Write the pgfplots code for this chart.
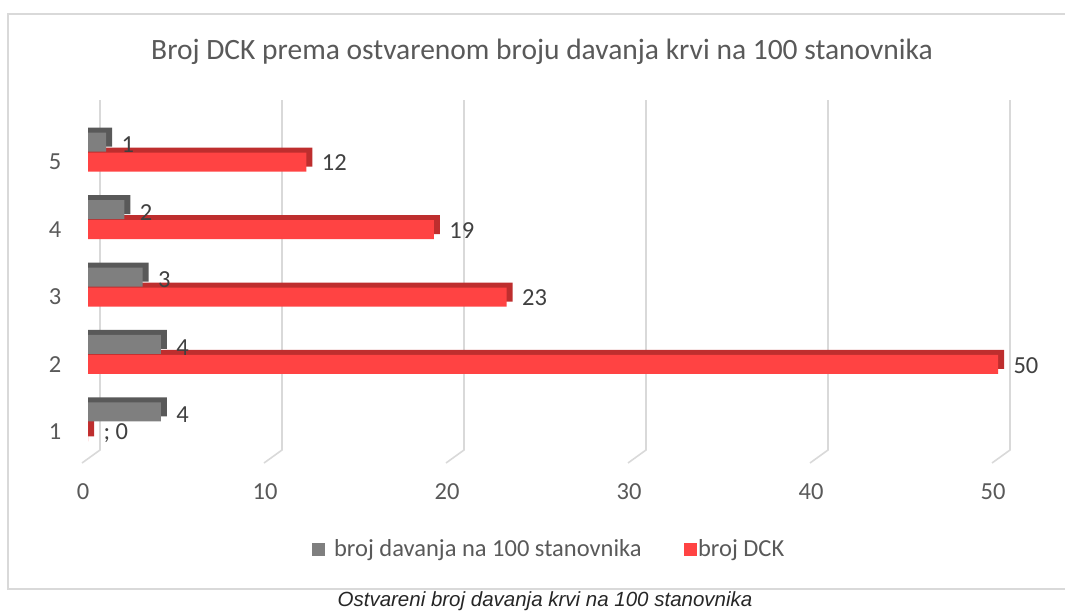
\documentclass[border=0pt]{standalone}
\usepackage{fontspec}
\setmainfont{Carlito}
\newfontfamily\capfont{Liberation Sans}
\usepackage{pgfplots}
\usepackage{pgfplotstable}
\pgfplotsset{compat=1.18}
\definecolor{redf}{HTML}{FF4343}
\definecolor{redd}{HTML}{BE2E2E}
\definecolor{grayf}{HTML}{7F7F7F}
\definecolor{grayd}{HTML}{595959}
\definecolor{gridc}{HTML}{D9D9D9}
\definecolor{txt}{HTML}{595959}
\definecolor{lbl}{HTML}{404040}
\pgfplotstableread{
v c l
0 1 {\char59\relax\ 0}
50 2 50
23 3 23
19 4 19
12 5 12
}\redtab
\pgfplotstableread{
v c l
4 1 4
4 2 4
3 3 3
2 4 2
1 5 1
}\graytab
\begin{document}
\begin{tikzpicture}
\path[use as bounding box] (0pt,0pt) rectangle (1065pt,-613pt);
\draw[gridc, line width=1.5pt] (1080pt,-14pt) -- (8pt,-14pt) -- (8pt,-589pt) -- (1080pt,-589pt);
\node[text=txt, font=\fontsize{29.5}{34}\selectfont] at (542pt,-52pt) {Broj DCK prema ostvarenom broju davanja krvi na 100 stanovnika};
\node[text=black!85, font=\capfont\itshape\fontsize{20.5}{24}\selectfont] at (545pt,-601pt) {Ostvareni broj davanja krvi na 100 stanovnika};
\begin{axis}[
  at={(88pt,-450pt)}, anchor=south west,
  scale only axis, width=910pt, height=350pt,
  xmin=0, xmax=50, ymin=0.733, ymax=5.919,
  xbar, bar width=19pt,
  axis line style={draw=none}, major tick length=0pt,
  xtick={0,10,...,50}, ytick={1,2,3,4,5},
  /pgf/number format/assume math mode=true,
  ticklabel style={font=\fontsize{24.5}{28}\selectfont, text=txt},
  xticklabel style={anchor=center, yshift=-42pt, xshift=-5pt},
  yticklabel style={anchor=center, xshift=-33pt},
  clip=false,
  legend columns=2,
  legend style={at={(0.5066,-0.283)}, anchor=center, draw=none, fill=none,
    font=\fontsize{24.5}{28}\selectfont, text=txt,
    /tikz/every even column/.append style={column sep=40pt}},
]
\pgfplotsinvokeforeach{0,10,20,30,40,50}{
  \draw[gridc, line width=1.6pt] ([xshift=12pt]axis cs:#1,5.919) -- ([xshift=12pt]axis cs:#1,0.733) -- ([xshift=-6pt,yshift=-13pt]axis cs:#1,0.733);
}
% red series: top/side faces, then front face
\addplot[forget plot, draw=none, fill=redd, bar shift=5pt] table[x expr=\thisrow{v}+0.33, y=c] {\redtab};
\addplot[forget plot, draw=none, fill=redf, bar shift=0pt,
  nodes near coords, point meta=explicit symbolic,
  every node near coord/.style={anchor=west, xshift=12pt, yshift=-1pt, font=\fontsize{24.5}{28}\selectfont, text=lbl}]
  table[x=v, y=c, meta=l] {\redtab};
% gray series
\addplot[forget plot, draw=none, fill=grayd, bar shift=25pt] table[x expr=\thisrow{v}+0.33, y=c] {\graytab};
\addplot[forget plot, draw=none, fill=grayf, bar shift=20pt,
  nodes near coords, point meta=explicit symbolic,
  every node near coord/.style={anchor=west, xshift=12pt, yshift=17pt, font=\fontsize{24.5}{28}\selectfont, text=lbl}]
  table[x=v, y=c, meta=l] {\graytab};
\addlegendimage{legend image code/.code={\fill[grayf] (0pt,-6pt) rectangle (12pt,6pt); \path (20pt,0pt);}}
\addlegendentry{broj davanja na 100 stanovnika}
\addlegendimage{legend image code/.code={\fill[redf] (0pt,-6pt) rectangle (12pt,6pt);}}
\addlegendentry{broj DCK}
\end{axis}
\end{tikzpicture}
\end{document}
